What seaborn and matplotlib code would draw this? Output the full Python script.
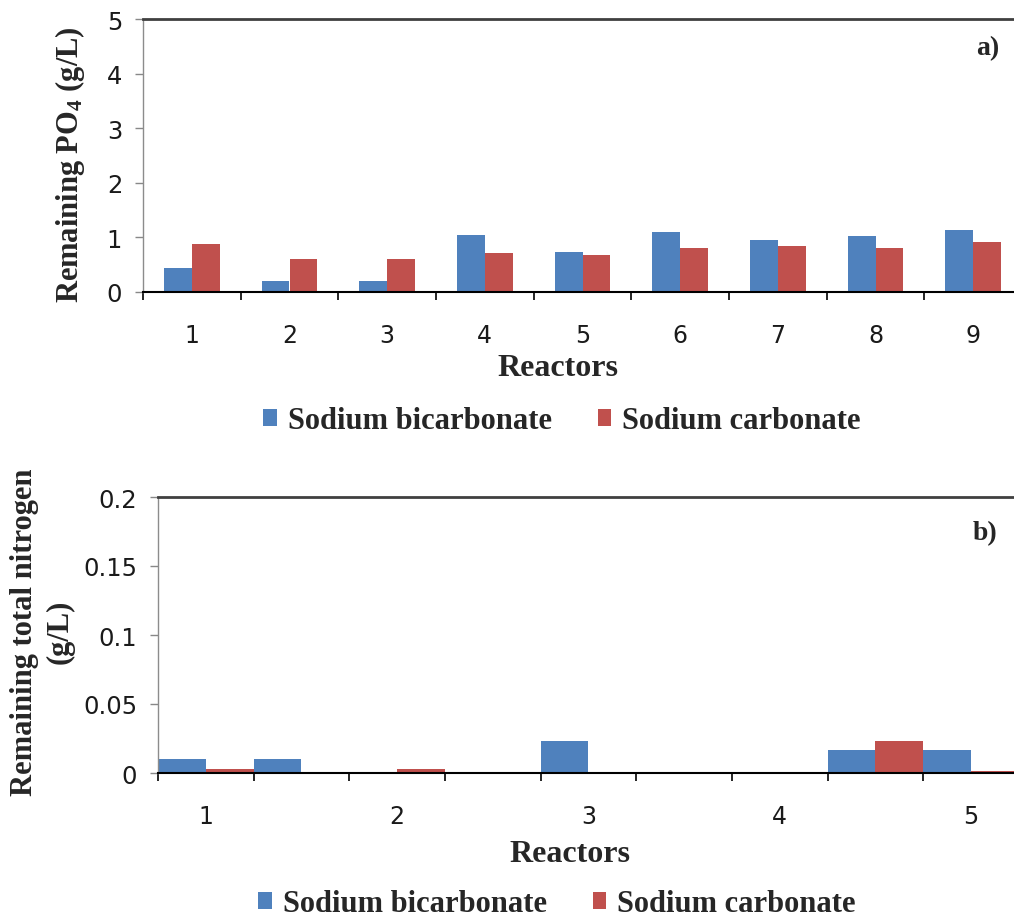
import numpy as np
import pandas as pd
import matplotlib
matplotlib.use("Agg")
import matplotlib.pyplot as plt
import seaborn as sns
from matplotlib.patches import Patch
from matplotlib.font_manager import FontProperties

# ---------------- data ----------------
series = ["Sodium bicarbonate", "Sodium carbonate"]
colors = ["#4F81BD", "#C0504D"]

reactors_a = ["1", "2", "3", "4", "5", "6", "7", "8", "9"]
bicarb_a = [0.44, 0.21, 0.21, 1.05, 0.73, 1.09, 0.95, 1.02, 1.13]
carb_a = [0.87, 0.61, 0.61, 0.72, 0.68, 0.80, 0.84, 0.80, 0.91]
ticklabels_a = ["1", "2", "3", "4", "5", "6", "7", "8", "9"]
yticks_a = [0, 1, 2, 3, 4, 5]

reactors_b = ["r1", "r2", "r3", "r4", "r5", "r6", "r7", "r8", "r9"]
bicarb_b = [0.0105, 0.0105, 0.0, 0.0, 0.0235, 0.0, 0.0, 0.0165, 0.0165]
carb_b = [0.003, 0.0, 0.003, 0.0, 0.0, 0.0, 0.0, 0.0235, 0.0017]
ticklabels_b = ["1", "", "2", "", "3", "", "4", "", "5"]
yticks_b = [0, 0.05, 0.1, 0.15, 0.2]
yticklabels_b = ["0", "0.05", "0.1", "0.15", "0.2"]

df_a = pd.DataFrame({
    "Reactor": reactors_a * 2,
    "Value": bicarb_a + carb_a,
    "Series": [series[0]] * len(reactors_a) + [series[1]] * len(reactors_a),
})
df_b = pd.DataFrame({
    "Reactor": reactors_b * 2,
    "Value": bicarb_b + carb_b,
    "Series": [series[0]] * len(reactors_b) + [series[1]] * len(reactors_b),
})

# ---------------- style ----------------
sns.set_theme(style="white")
plt.rcParams["font.family"] = ["DejaVu Sans"]
plt.rcParams["mathtext.fontset"] = "custom"
plt.rcParams["mathtext.rm"] = "Liberation Serif:bold"
plt.rcParams["mathtext.it"] = "Liberation Serif:bold"
plt.rcParams["mathtext.bf"] = "Liberation Serif:bold"
plt.rcParams["mathtext.default"] = "rm"

serif_bold = dict(family="Liberation Serif", weight="bold")

fig = plt.figure(figsize=(10.14, 9.2), dpi=100)

W, H = 1014.0, 920.0


def px_axes(left, right, top, bottom):
    return [left / W, 1 - bottom / H, (right - left) / W, (bottom - top) / H]


def style_axis(ax, n, ticklabels, pad):
    ax.set_xlim(-0.5, n - 0.5)
    ax.set_xticks(np.arange(n + 1) - 0.5)
    ax.set_xticklabels([""] * (n + 1))
    ax.set_xticks(np.arange(n), minor=True)
    ax.set_xticklabels(ticklabels, minor=True)
    ax.tick_params(axis="x", which="major", direction="out", length=6,
                   width=1.2, color="black", bottom=True)
    ax.tick_params(axis="x", which="minor", length=0, pad=pad,
                   labelsize=17, labelcolor="#1a1a1a", bottom=True)
    ax.tick_params(axis="y", direction="out", length=6, width=1,
                   color="#888888", left=True, labelsize=17.5,
                   labelcolor="#1a1a1a", pad=9)
    ax.set_xlabel("")
    ax.set_ylabel("")
    ax.spines["right"].set_visible(False)
    ax.spines["top"].set_color("#404040")
    ax.spines["top"].set_linewidth(2)
    ax.spines["left"].set_color("#8c8c8c")
    ax.spines["left"].set_linewidth(1)
    ax.spines["bottom"].set_color("black")
    ax.spines["bottom"].set_linewidth(1.5)
    ax.grid(False)


# ---------------- panel a ----------------
ax1 = fig.add_axes(px_axes(143, 1022, 20, 293))
sns.barplot(data=df_a, x="Reactor", y="Value", hue="Series",
            order=reactors_a, hue_order=series, palette=colors,
            width=0.57, saturation=1, linewidth=0, legend=False, ax=ax1,
            errorbar=None)
style_axis(ax1, len(reactors_a), ticklabels_a, pad=22)
ax1.set_ylim(0, 5)
ax1.set_yticks(yticks_a)
ax1.set_yticklabels([str(v) for v in yticks_a])

fig.text(70 / W, 1 - 165 / H, "Remaining PO$_4$ (g/L)", rotation=90,
         ha="center", va="center", fontsize=22, **serif_bold)
fig.text(558 / W, 1 - 369 / H, "Reactors", ha="center", va="center",
         fontsize=23, **serif_bold)
fig.text(988 / W, 1 - 49 / H, "a)", ha="center", va="center",
         fontsize=20, **serif_bold)

# ---------------- panel b ----------------
ax2 = fig.add_axes(px_axes(158, 1019, 498, 774))
sns.barplot(data=df_b, x="Reactor", y="Value", hue="Series",
            order=reactors_b, hue_order=series, palette=colors,
            width=1.0, saturation=1, linewidth=0, legend=False, ax=ax2,
            errorbar=None)
style_axis(ax2, len(reactors_b), ticklabels_b, pad=22)
ax2.set_ylim(0, 0.2)
ax2.set_yticks(yticks_b)
ax2.set_yticklabels(yticklabels_b)

fig.text(42 / W, 1 - 632 / H, "Remaining total nitrogen\n(g/L)", rotation=90,
         ha="center", va="center", fontsize=22, linespacing=1.3, **serif_bold)
fig.text(570 / W, 1 - 855 / H, "Reactors", ha="center", va="center",
         fontsize=23, **serif_bold)
fig.text(985 / W, 1 - 534 / H, "b)", ha="center", va="center",
         fontsize=20, **serif_bold)

# ---------------- legends ----------------
handles = [Patch(facecolor=c, edgecolor="none") for c in colors]
leg_font = FontProperties(family="Liberation Serif", weight="bold", size=22)
for cy, cx in [(422, 562), (905, 557)]:
    fig.legend(handles, series, loc="center",
               bbox_to_anchor=(cx / W, 1 - cy / H), ncol=2, frameon=False,
               prop=leg_font, handlelength=0.45, handleheight=0.45,
               handletextpad=0.35, columnspacing=1.5, borderpad=0.1)

fig.savefig("out.png", dpi=100)
